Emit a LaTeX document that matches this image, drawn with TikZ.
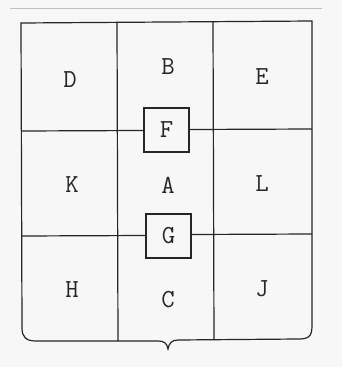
\documentclass[tikz,border=0pt]{standalone}
\begin{document}
\begin{tikzpicture}[x=1pt,y=-1pt,
  ln/.style={draw=black!85,line width=1.2pt},
  lbl/.style={font=\ttfamily\fontsize{26}{26}\selectfont,text=black!85,inner sep=0pt},
  sq/.style={draw=black!85,line width=1.2pt,minimum width=45pt,minimum height=44pt,inner sep=0pt,font=\ttfamily\fontsize{26}{26}\selectfont,text=black!85}]
\useasboundingbox (0,0) rectangle (342,367);
\fill[black!3] (0,0) rectangle (342,367);
\draw[black!25,line width=1pt] (10,8) -- (322,8);
% shield outline
\draw[ln] (21,23) -- (312,21) -- (312,326)
  .. controls (312,337) and (308,339) .. (298,339)
  -- (178,340)
  .. controls (172,340) and (169,343) .. (168,349)
  .. controls (167,343) and (164,341) .. (158,341)
  -- (36,341)
  .. controls (26,341) and (22,337) .. (22,328) -- cycle;
% boxes
\node[sq] (F) at (166.5,130) {F};
\node[sq] (G) at (168.5,236) {G};
% coordinates for lines
\coordinate (t1) at (117,22);
\coordinate (b1) at (118,341);
\coordinate (t2) at (213,21.5);
\coordinate (b2) at (214,339.5);
\coordinate (l1) at (21,131);
\coordinate (r1) at (312,129);
\coordinate (l2) at (21.5,236);
\coordinate (r2) at (312,234);
\draw[ln] (t1) -- (b1);
\draw[ln] (t2) -- (b2);
\draw[ln] (l1) -- (F.west |- 0,130.5);
\draw[ln] (F.east |- 0,129.5) -- (r1);
\draw[ln] (l2) -- (G.west |- 0,235.5);
\draw[ln] (G.east |- 0,234.5) -- (r2);
% labels
\node[lbl] (D) at (70,80) {D};
\node[lbl] (B) at (168,67) {B};
\node[lbl] (E) at (262,77) {E};
\node[lbl] (K) at (72,185) {K};
\node[lbl] (A) at (168,185) {A};
\node[lbl] (L) at (262,184) {L};
\node[lbl] (H) at (72,290) {H};
\node[lbl] (C) at (168,300) {C};
\node[lbl] (J) at (262,289) {J};
\end{tikzpicture}
\end{document}
